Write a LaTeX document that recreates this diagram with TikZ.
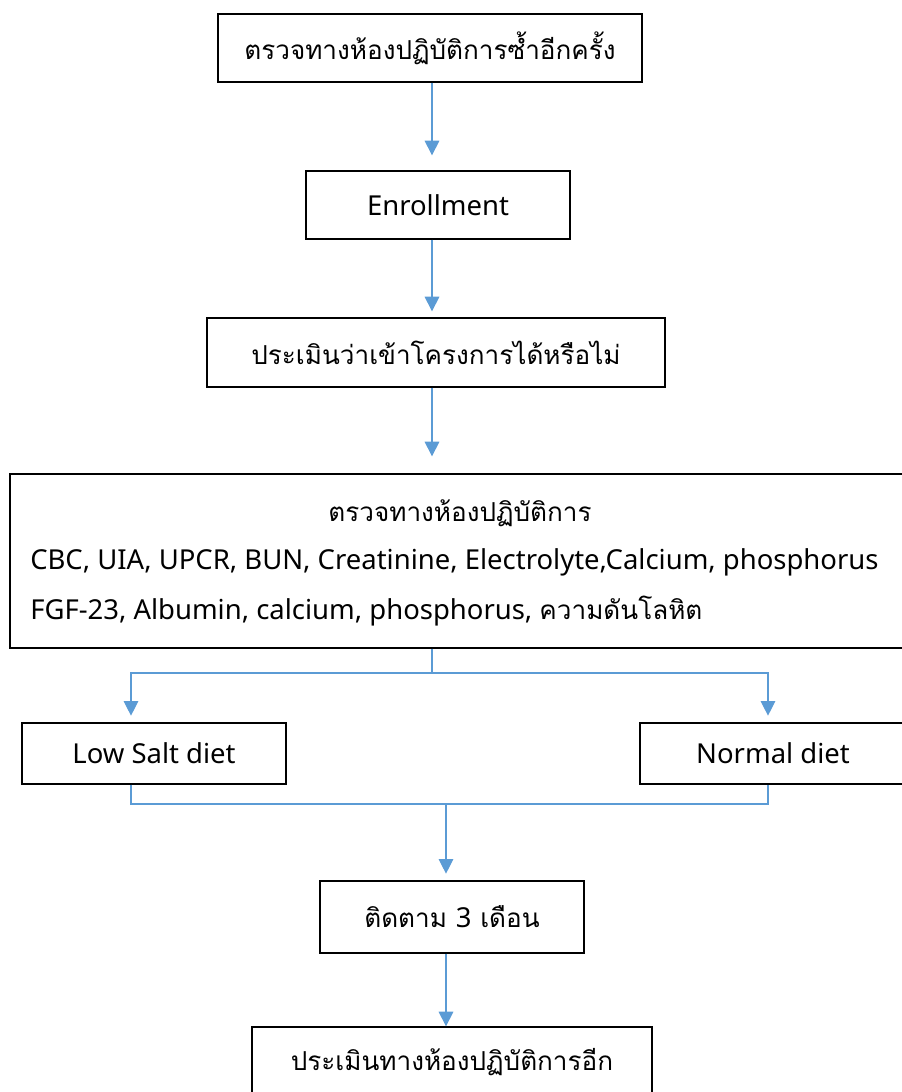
\documentclass[tikz,border=0pt]{standalone}
\usepackage{fontspec}
\setmainfont{Noto Sans}
\newfontfamily\thaifont[Script=Thai, Scale=0.95]{Loma}
\usepackage{tikz}
\usetikzlibrary{arrows.meta}
\definecolor{linkblue}{HTML}{5B9BD5}

\begin{document}
\begin{tikzpicture}[
		x=0.75pt, y=-0.75pt,
		every node/.style={inner sep=0pt, font=\fontsize{20.6}{25}\selectfont},
		box/.style 2 args={draw, line width=1pt, minimum width=#1*0.75pt, minimum height=#2*0.75pt},
		line/.style={draw=linkblue, line width=0.9pt},
		link/.style={line, -{Triangle[width=11pt, length=11pt]}}
		]
		\useasboundingbox (0,0) rectangle (901,1092);
		\node[box={424}{68}] (recheck) at (430,48) {\thaifont ตรวจทางห้องปฏิบัติการซ้ำอีกครั้ง};
		\node[box={264}{68}] (enroll) at (438,205) {Enrollment};
		\node[box={458}{69}] (screen) at (436,352.5) {\thaifont ประเมินว่าเข้าโครงการได้หรือไม่};
		\node[box={895}{174}] (labs) at (457.5,561) {};
		\node (labtitle) at (460,513) {\thaifont ตรวจทางห้องปฏิบัติการ};
		\node[anchor=west] (labrowa) at (30,562) {CBC, UIA, UPCR, BUN, Creatinine, Electrolyte,Calcium, phosphorus};
		\node[anchor=west] (labrowb) at (30,611) {FGF-23, Albumin, calcium, phosphorus, {\thaifont ความดันโลหิต}};
		\node[box={264}{61}] (lowsalt) at (154,753.5) {Low Salt diet};
		\node[box={266}{61}] (normal) at (773,753.5) {Normal diet};
		\node[box={264}{72}] (followup) at (452,917) {\thaifont ติดตาม {\rmfamily 3} เดือน};
		\node[box={400}{70}] (reassess) at (452,1062) {\thaifont ประเมินทางห้องปฏิบัติการอีก};
		\coordinate (ax) at (432,0);
		\coordinate (split) at (432,673);
		\coordinate (splitL) at (131,673);
		\coordinate (splitR) at (768,673);
		\coordinate (merge) at (446,804);
		\draw[link, shorten >=11.25pt] (recheck.south -| ax) -- (enroll.north -| ax);
		\draw[link, shorten >=4.5pt] (enroll.south -| ax) -- (screen.north -| ax);
		\draw[link, shorten >=12.75pt] (screen.south -| ax) -- (labs.north -| ax);
		\draw[line] (labs.south -| split) -- (split);
		\draw[link, shorten >=5pt] (split) -| (lowsalt.north -| splitL);
		\draw[link, shorten >=5pt] (split) -| (normal.north -| splitR);
		\draw[line] (lowsalt.south -| splitL) |- (merge) -| (normal.south -| splitR);
		\draw[link, shorten >=5pt] (merge) -- (followup.north -| merge);
		\draw[link] (followup.south -| merge) -- (reassess.north -| merge);
	\end{tikzpicture}
\end{document}
